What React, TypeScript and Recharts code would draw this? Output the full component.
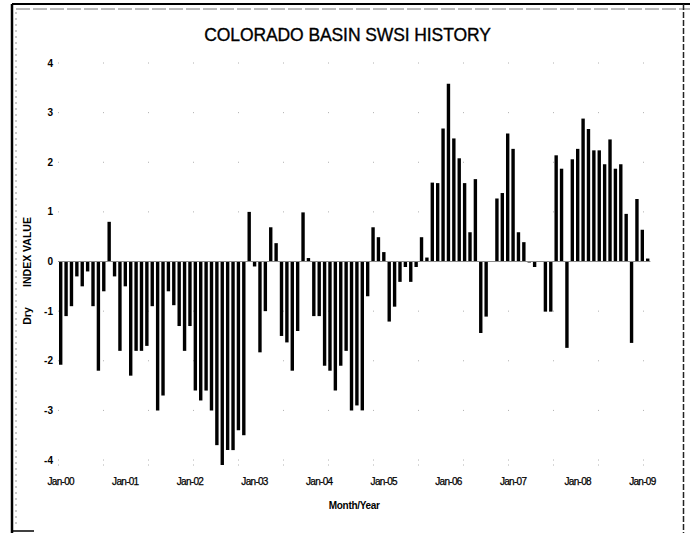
import React from 'react';
import { BarChart, Bar, XAxis, YAxis, CartesianGrid, ReferenceLine } from 'recharts';

const MONTHS = ['Jan', 'Feb', 'Mar', 'Apr', 'May', 'Jun', 'Jul', 'Aug', 'Sep', 'Oct', 'Nov', 'Dec'];
const YEARS = ['00', '01', '02', '03', '04', '05', '06', '07', '08', '09'];

const SWSI_2000 = [-2.08, -1.1, -0.9, -0.3, -0.5, -0.2, -0.9, -2.2, -0.6, 0.8, -0.3, -1.8];
const SWSI_2001 = [-0.5, -2.3, -1.8, -1.8, -1.7, -0.9, -3.0, -2.7, -0.6, -0.88, -1.3, -1.8];
const SWSI_2002 = [-1.3, -2.6, -2.8, -2.6, -3.0, -3.7, -4.1, -3.8, -3.8, -3.4, -3.5, 1.0];
const SWSI_2003 = [-0.1, -1.83, -1.0, 0.69, 0.37, -1.5, -1.63, -2.2, -1.4, 0.99, 0.07, -1.1];
const SWSI_2004 = [-1.1, -2.1, -2.2, -2.6, -2.1, -1.8, -3.0, -2.9, -3.0, -0.7, 0.69, 0.49];
const SWSI_2005 = [0.19, -1.21, -0.91, -0.41, -0.11, -0.41, -0.11, 0.49, 0.08, 1.59, 1.58, 2.68];
const SWSI_2006 = [3.58, 2.48, 2.08, 1.58, 0.59, 1.66, -1.44, -1.11, 0, 1.27, 1.38, 2.58];
const SWSI_2007 = [2.27, 0.59, 0.39, -0.02, -0.11, 0, -1.01, -1.01, 2.14, 1.87, -1.74, 2.06];
const SWSI_2008 = [2.27, 2.88, 2.67, 2.24, 2.24, 1.96, 2.46, 1.87, 1.96, 0.96, -1.64, 1.26];
const SWSI_2009 = [0.64, 0.06];

const SERIES_BY_YEAR = [SWSI_2000, SWSI_2001, SWSI_2002, SWSI_2003, SWSI_2004, SWSI_2005, SWSI_2006, SWSI_2007, SWSI_2008, SWSI_2009];
const Y_TICKS = [-4, -3, -2, -1, 0, 1, 2, 3, 4];

const data: { month: string; swsi: number }[] = [];
SERIES_BY_YEAR.forEach((vals, yi) => {
  vals.forEach((v, mi) => {
    data.push({ month: `${MONTHS[mi]}-${YEARS[yi]}`, swsi: v });
  });
});

const FONT = '"Liberation Sans", Arial, sans-serif';

export default function App() {
  return (
    <div style={{ position: 'absolute', left: 0, top: 0, width: 690, height: 533, background: '#fff', fontFamily: FONT }}>
      <BarChart
        width={690}
        height={533}
        data={data}
        margin={{ top: 63, right: 39.6, bottom: 18, left: 18 }}
        barCategoryGap={0}
      >
        <CartesianGrid vertical={false} stroke="#b0b0b0" strokeDasharray="1 44" />
        <XAxis
          dataKey="month"
          interval={11}
          axisLine={false}
          tickLine={false}
          tickSize={0}
          tickMargin={13}
          height={50}
          tick={{ fontSize: 10, fill: '#000', stroke: '#000', strokeWidth: 0.25, fontFamily: FONT, letterSpacing: -0.7 } as any}
          label={{ value: 'Month/Year', position: 'insideBottom', offset: 6, fontSize: 10, fontWeight: 'bold', fill: '#000', fontFamily: FONT, letterSpacing: -0.3 } as any}
        />
        <YAxis
          domain={[-4, 4]}
          ticks={Y_TICKS}
          axisLine={false}
          tickLine={false}
          tickSize={0}
          tickMargin={5}
          width={40}
          tick={{ fontSize: 10, fontWeight: 'bold', fill: '#000', fontFamily: FONT } as any}
        />
        <ReferenceLine y={0} stroke="#8a8a8a" strokeWidth={1} />
        <Bar dataKey="swsi" fill="#000" barSize={3.4} isAnimationActive={false} />
      </BarChart>
      <svg width={690} height={533} style={{ position: 'absolute', left: 0, top: 0, pointerEvents: 'none' }}>
        <line x1={12} y1={4} x2={690} y2={4} stroke="#000" strokeWidth={2} />
        <line x1={16} y1={9} x2={690} y2={9} stroke="#777" strokeWidth={1} strokeDasharray="14 3" />
        <line x1={12} y1={4} x2={12} y2={533} stroke="#000" strokeWidth={2.5} />
        <line x1={16} y1={12} x2={16} y2={528} stroke="#999" strokeWidth={1} strokeDasharray="2 4" />
        <line x1={12} y1={531} x2={34} y2={531} stroke="#000" strokeWidth={1.5} />
        <line x1={683.5} y1={4} x2={683.5} y2={533} stroke="#222" strokeWidth={1.5} strokeDasharray="6 2" />
        <text x={347.5} y={41} textAnchor="middle" fontSize={17.5} fill="#000" stroke="#000" strokeWidth={0.35} fontFamily={FONT} letterSpacing={-0.1}>
          COLORADO BASIN SWSI HISTORY
        </text>
        <text transform="translate(31,252) rotate(-90)" textAnchor="middle" fontSize={10.5} fontWeight="bold" fill="#000" fontFamily={FONT}>
          INDEX VALUE
        </text>
        <text transform="translate(31,316) rotate(-90)" textAnchor="middle" fontSize={10.5} fontWeight="bold" fill="#000" fontFamily={FONT}>
          Dry
        </text>
      </svg>
    </div>
  );
}
